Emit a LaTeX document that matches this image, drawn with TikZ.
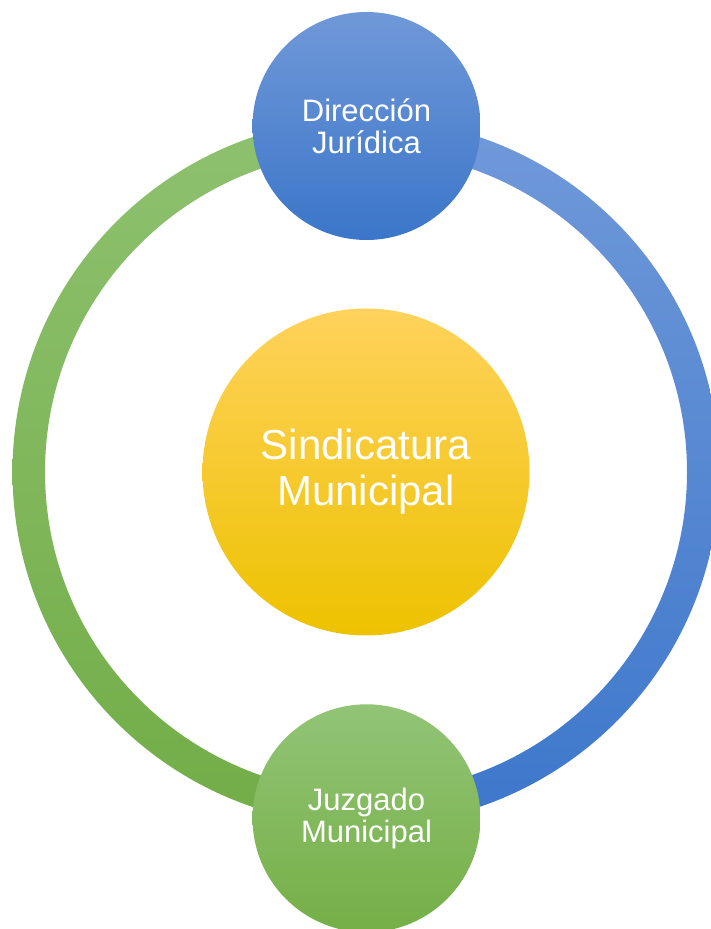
\documentclass[tikz,border=0pt]{standalone}
\usepackage{fontspec}
\setmainfont{Liberation Sans}

\definecolor{ringGreenTop}{HTML}{8EC16F}
\definecolor{ringGreenBot}{HTML}{72AD47}
\definecolor{ringBlueTop}{HTML}{7099D9}
\definecolor{ringBlueBot}{HTML}{3D77CB}
\definecolor{dirTop}{HTML}{7098D8}
\definecolor{dirBot}{HTML}{3B76C9}
\definecolor{juzTop}{HTML}{92C476}
\definecolor{juzBot}{HTML}{75AF46}
\definecolor{sindTop}{HTML}{FFD25C}
\definecolor{sindMid}{HTML}{FFD000}
\definecolor{sindBot}{HTML}{EDC200}

\tikzset{
  bubble/.style={circle, inner sep=0pt, text=white, align=center},
  smalltext/.style={font=\fontsize{31}{32}\selectfont},
}

\begin{document}
\begin{tikzpicture}[x=1pt, y=1pt]
  \useasboundingbox (0, 0) rectangle (710, 929);
  \coordinate (O) at (366, 457);

  % ring, left half green and right half blue
  \shade[top color=ringGreenTop, bottom color=ringGreenBot]
    (O) ++(90:353.5) arc[start angle=90, end angle=270, radius=353.5]
    -- ++(0, 32.5) arc[start angle=270, end angle=90, radius=321] -- cycle;
  \shade[top color=ringBlueTop, bottom color=ringBlueBot]
    (O) ++(90:353.5) arc[start angle=90, end angle=-90, radius=353.5]
    -- ++(0, 32.5) arc[start angle=-90, end angle=90, radius=321] -- cycle;

  \node[bubble, minimum size=327, top color=sindTop, middle color=sindMid,
    bottom color=sindBot, font=\fontsize{42}{46}\selectfont]
    (sind) at (O) {Sindicatura\\Municipal};
  \node[bubble, smalltext, minimum size=228, top color=dirTop, bottom color=dirBot]
    (dir) at (366.5, 803) {Dirección\\Jurídica};
  \node[bubble, smalltext, minimum size=228, top color=juzTop, bottom color=juzBot]
    (juz) at (366.5, 110.7) {Juzgado\\Municipal};
\end{tikzpicture}
\end{document}
